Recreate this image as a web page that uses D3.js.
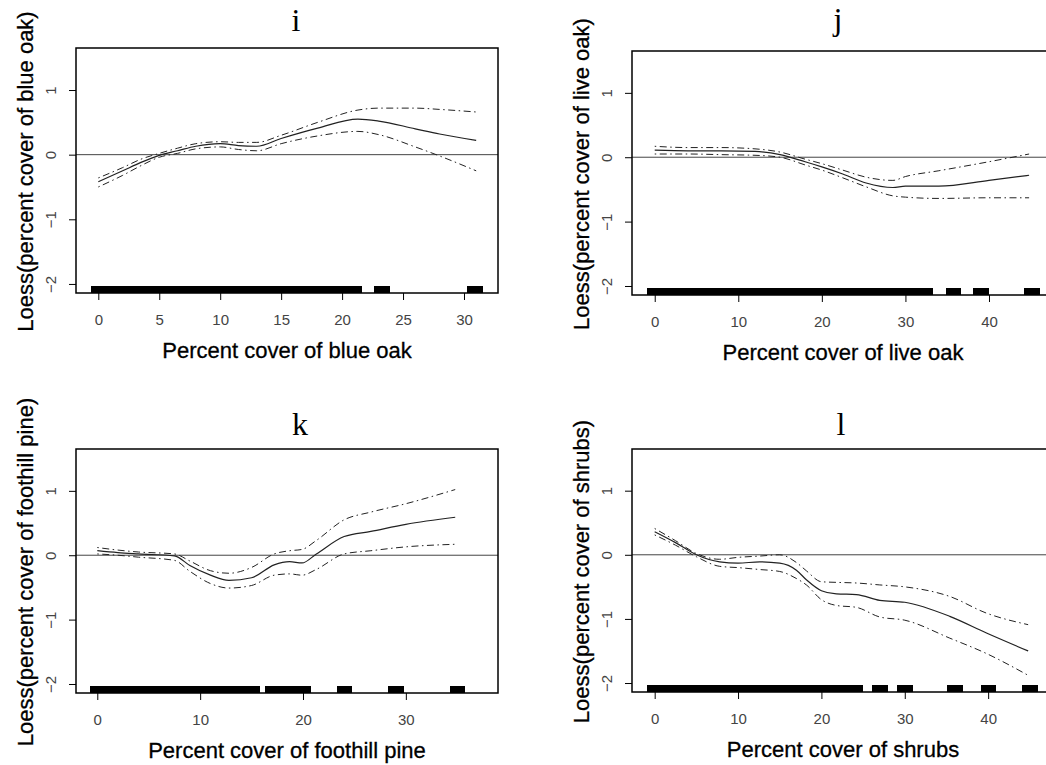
<!DOCTYPE html>
<html>
<head>
<meta charset="utf-8">
<script src="https://cdn.jsdelivr.net/npm/d3@7"></script>
<style>
  html, body { margin: 0; padding: 0; background: #fff; }
  svg { display: block; }
</style>
</head>
<body>
<script>
// panel i : blue oak
const blueOakX     = [0, 2, 3.5, 5, 6.5, 8, 10, 11.5, 13, 15, 18, 21.3, 23, 26, 28, 31];
const blueOakFit   = [-0.42, -0.25, -0.12, -0.01, 0.06, 0.13, 0.17, 0.14, 0.13, 0.25, 0.41, 0.55, 0.52, 0.40, 0.32, 0.22];
const blueOakUpper = [-0.36, -0.2, -0.07, 0.02, 0.1, 0.17, 0.2, 0.19, 0.19, 0.3, 0.5, 0.69, 0.72, 0.72, 0.70, 0.66];
const blueOakLower = [-0.5, -0.32, -0.17, -0.04, 0.02, 0.09, 0.12, 0.08, 0.06, 0.17, 0.29, 0.36, 0.31, 0.12, -0.02, -0.25];
const blueOakRug   = [0, 1, 2, 3, 4, 5, 6, 7, 8, 9, 10, 11, 12, 13, 14, 15, 16, 17, 18, 19, 20, 21, 23.25, 30.9];

// panel j : live oak
const liveOakX     = [0, 4, 8, 12, 15, 18, 20, 22.5, 25.3, 28.5, 30, 34, 40, 44.8];
const liveOakFit   = [0.11, 0.1, 0.1, 0.09, 0.04, -0.07, -0.15, -0.26, -0.4, -0.47, -0.45, -0.45, -0.36, -0.28];
const liveOakUpper = [0.17, 0.15, 0.15, 0.13, 0.08, -0.03, -0.1, -0.2, -0.31, -0.36, -0.3, -0.21, -0.07, 0.05];
const liveOakLower = [0.05, 0.05, 0.04, 0.03, 0.0, -0.12, -0.2, -0.32, -0.46, -0.6, -0.62, -0.64, -0.63, -0.63];
const liveOakRug   = [0, 1, 2, 3, 4, 5, 6, 7, 8, 9, 10, 11, 12, 13, 14, 15, 16, 17, 18, 19, 20, 21, 22, 23, 24, 25, 26, 27, 28, 29, 30, 31, 32.3, 35.7, 39, 45.1];

// panel k : foothill pine
const pineX     = [0, 2, 4, 7.5, 9, 11, 12.8, 15, 17.2, 18.7, 19.9, 21.3, 24, 26.6, 30, 34.8];
const pineFit   = [0.07, 0.04, 0.02, -0.01, -0.16, -0.31, -0.39, -0.35, -0.15, -0.1, -0.12, 0.02, 0.29, 0.37, 0.48, 0.59];
const pineUpper = [0.12, 0.08, 0.05, 0.02, -0.09, -0.24, -0.28, -0.19, 0.02, 0.07, 0.09, 0.23, 0.55, 0.67, 0.8, 1.02];
const pineLower = [0.02, 0.0, -0.03, -0.08, -0.25, -0.44, -0.51, -0.47, -0.31, -0.29, -0.31, -0.22, 0.02, 0.07, 0.13, 0.17];
const pineRug   = [0, 1, 2, 3, 4, 5, 6, 7, 8, 9, 10, 11, 12, 13, 14, 15, 17, 18, 19, 20, 24, 29, 35];

// panel l : shrubs
const shrubX     = [0, 2.5, 5, 7.8, 10, 12.6, 15, 17, 18.2, 20, 21.8, 24.2, 27, 30, 35.4, 39.8, 44.8];
const shrubFit   = [0.36, 0.19, 0.0, -0.11, -0.13, -0.11, -0.13, -0.24, -0.39, -0.56, -0.61, -0.62, -0.71, -0.74, -0.96, -1.22, -1.5];
const shrubUpper = [0.41, 0.22, 0.02, -0.07, -0.04, -0.02, 0.0, -0.12, -0.25, -0.42, -0.43, -0.44, -0.47, -0.5, -0.65, -0.91, -1.09];
const shrubLower = [0.31, 0.15, -0.03, -0.18, -0.2, -0.23, -0.26, -0.37, -0.47, -0.7, -0.79, -0.82, -0.97, -1.02, -1.3, -1.54, -1.88];
const shrubRug   = [0, 1, 2, 3, 4, 5, 6, 7, 8, 9, 10, 11, 12, 13, 14, 15, 16, 17, 18, 19, 20, 21, 22, 23, 24, 27, 30, 36, 40, 45];

const titles  = ["i", "j", "k", "l"];
const xLabels = ["Percent cover of blue oak", "Percent cover of live oak",
                 "Percent cover of foothill pine", "Percent cover of shrubs"];
const yLabels = ["Loess(percent cover of blue oak)", "Loess(percent cover of live oak)",
                 "Loess(percent cover of foothill pine)", "Loess(percent cover of shrubs)"];
const xTicksI = [0, 5, 10, 15, 20, 25, 30];
const xTicksJ = [0, 10, 20, 30, 40];
const xTicksK = [0, 10, 20, 30];
const xTicksL = [0, 10, 20, 30, 40];
const yTicks  = [-2, -1, 0, 1];

const panels = [
  { x: blueOakX, fit: blueOakFit, up: blueOakUpper, lo: blueOakLower, rug: blueOakRug, ticks: xTicksI,
    xdom: [-1.83, 32.79], left: 76, top: 48, w: 422, h: 245, titleX: 296, titleY: 31 },
  { x: liveOakX, fit: liveOakFit, up: liveOakUpper, lo: liveOakLower, rug: liveOakRug, ticks: xTicksJ,
    xdom: [-2.72, 47.78], left: 632, top: 51, w: 422, h: 244, titleX: 838, titleY: 30 },
  { x: pineX, fit: pineFit, up: pineUpper, lo: pineLower, rug: pineRug, ticks: xTicksK,
    xdom: [-2.07, 38.96], left: 76, top: 449, w: 422, h: 244, titleX: 300, titleY: 435 },
  { x: shrubX, fit: shrubFit, up: shrubUpper, lo: shrubLower, rug: shrubRug, ticks: xTicksL,
    xdom: [-2.72, 47.9], left: 632, top: 449, w: 422, h: 243, titleX: 841, titleY: 435 }
];

const yDomain = [-2.14, 1.65];
const sans = "Liberation Sans, Arial, sans-serif";

const svg = d3.select("body").append("svg")
    .attr("width", 1046)
    .attr("height", 765);

svg.append("rect").attr("width", 1046).attr("height", 765).attr("fill", "#fff");

panels.forEach((p, i) => {
  const xs = d3.scaleLinear().domain(p.xdom).range([p.left, p.left + p.w]);
  const ys = d3.scaleLinear().domain(yDomain).range([p.top + p.h, p.top]);
  const g = svg.append("g");

  // zero line
  g.append("line")
      .attr("x1", p.left).attr("x2", p.left + p.w)
      .attr("y1", ys(0)).attr("y2", ys(0))
      .attr("stroke", "#444").attr("stroke-width", 1);

  // rug (thick ticks merge into bars)
  const rugH = p.h * 0.03;
  g.selectAll("rect.rug").data(p.rug).enter().append("rect")
      .attr("class", "rug")
      .attr("x", d => xs(d) - 7.5)
      .attr("width", 15.5)
      .attr("y", p.top + p.h - rugH)
      .attr("height", rugH)
      .attr("fill", "#000")
      .attr("shape-rendering", "crispEdges");

  const pts = k => p.x.map((v, j) => [v, p[k][j]]);
  const line = d3.line().x(d => xs(d[0])).y(d => ys(d[1])).curve(d3.curveMonotoneX);

  ["up", "lo"].forEach(k => {
    g.append("path")
        .attr("d", line(pts(k)))
        .attr("fill", "none")
        .attr("stroke", "#222")
        .attr("stroke-width", 1)
        .attr("stroke-dasharray", "1.5,3.5,7,3.5");
  });

  g.append("path")
      .attr("d", line(pts("fit")))
      .attr("fill", "none")
      .attr("stroke", "#222")
      .attr("stroke-width", 1.2);

  // frame
  g.append("rect")
      .attr("x", p.left).attr("y", p.top)
      .attr("width", p.w).attr("height", p.h)
      .attr("fill", "none").attr("stroke", "#000").attr("stroke-width", 1.5);

  // x axis
  const xAxis = d3.axisBottom(xs).tickValues(p.ticks).tickSize(7).tickPadding(14).tickFormat(d3.format("d"));
  const gx = g.append("g").attr("transform", `translate(0,${p.top + p.h})`).call(xAxis);
  gx.select(".domain").remove();
  gx.selectAll("line").attr("stroke", "#000");
  gx.selectAll("text")
      .attr("font-family", sans)
      .attr("font-size", 15).attr("fill", "#444");

  // y axis, labels rotated like R's default las = 0
  const yAxis = d3.axisLeft(ys).tickValues(yTicks).tickSize(7).tickFormat(d3.format("d"));
  const gy = g.append("g").attr("transform", `translate(${p.left},0)`).call(yAxis);
  gy.select(".domain").remove();
  gy.selectAll("line").attr("stroke", "#000");
  gy.selectAll("text")
      .attr("font-family", sans)
      .attr("font-size", 15).attr("fill", "#444")
      .attr("x", null)
      .attr("text-anchor", "middle")
      .attr("transform", "translate(-25,0) rotate(-90)")
      .attr("dy", "0.35em");

  // title
  g.append("text")
      .attr("x", p.titleX).attr("y", p.titleY)
      .attr("text-anchor", "middle")
      .attr("font-family", "Liberation Serif, Times New Roman, serif")
      .attr("font-size", 32)
      .text(titles[i]);

  // axis labels
  g.append("text")
      .attr("x", p.left + p.w / 2).attr("y", p.top + p.h + 65)
      .attr("text-anchor", "middle")
      .attr("font-family", sans)
      .attr("font-size", 22)
      .attr("stroke", "#000").attr("stroke-width", 0.3)
      .text(xLabels[i]);

  g.append("text")
      .attr("transform", `translate(${p.left - 51},${p.top + p.h / 2 + 1}) rotate(-90)`)
      .attr("text-anchor", "middle")
      .attr("dy", "0.35em")
      .attr("font-family", sans)
      .attr("font-size", 22)
      .attr("stroke", "#000").attr("stroke-width", 0.3)
      .text(yLabels[i]);
});
</script>
</body>
</html>
